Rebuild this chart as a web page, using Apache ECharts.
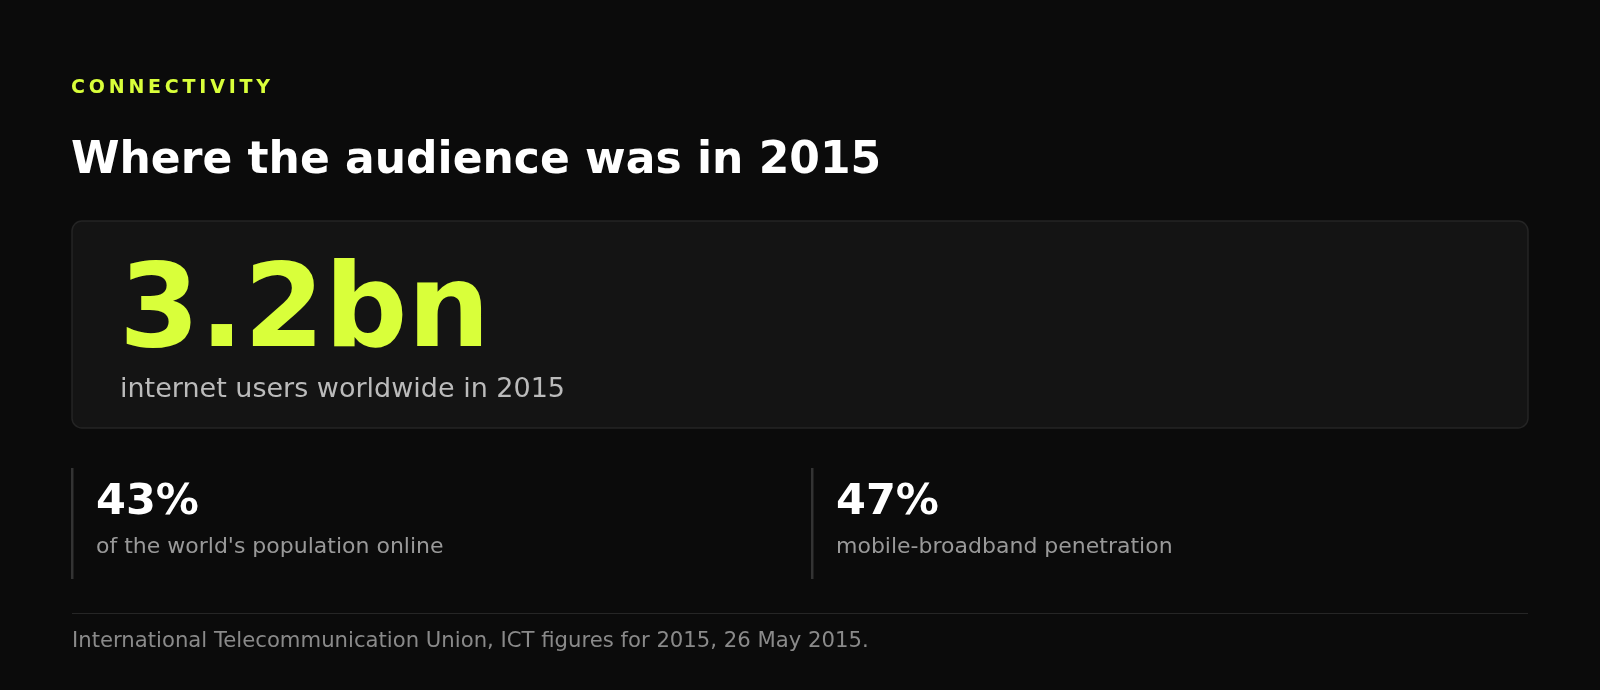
<!DOCTYPE html>
<html><head><meta charset="utf-8">
<script src="https://cdn.jsdelivr.net/npm/echarts@6/dist/echarts.min.js"></script>
<style>html,body{margin:0;padding:0;background:#0b0b0b}#c{width:1600px;height:690px}</style>
</head><body><div id="c"></div>
<script>
const kicker = "CONNECTIVITY";
const title = "Where the audience was in 2015";
const heroValue = "3.2bn";
const heroLabel = "internet users worldwide in 2015";
const statValues = ["43%", "47%"];
const statLabels = ["of the world's population online", "mobile-broadband penetration"];
const source = "International Telecommunication Union, ICT figures for 2015, 26 May 2015.";

const F = "DejaVu Sans";
const chart = echarts.init(document.getElementById('c'), null, {renderer: 'canvas'});
const g = [];
g.push({type:'text', left:71, top:79, style:{text:kicker.split('').join('\u2009'), fill:'#d9ff3a', font:`bold 19px "${F}"`}});
g.push({type:'text', left:71, top:140, style:{text:title, fill:'#ffffff', font:`bold 44px "${F}"`}});
g.push({type:'rect', shape:{x:72, y:221, width:1456, height:207, r:10}, style:{fill:'#141414', stroke:'#242424', lineWidth:1.5}});
g.push({type:'text', left:119, top:258, style:{text:heroValue, fill:'#d9ff3a', font:`bold 116px "${F}"`}});
g.push({type:'text', left:120, top:376, style:{text:heroLabel, fill:'#bbbbbb', font:`27px "${F}"`}});
const xs = [71, 811];
statValues.forEach((v,i)=>{
  const x = xs[i];
  g.push({type:'rect', shape:{x:x, y:468, width:2.5, height:111}, style:{fill:'#333333'}});
  g.push({type:'text', left:x+25, top:481, style:{text:v, fill:'#ffffff', font:`bold 43px "${F}"`}});
  g.push({type:'text', left:x+25, top:536, style:{text:statLabels[i], fill:'#999999', font:`22px "${F}"`}});
});
g.push({type:'rect', shape:{x:72, y:613, width:1456, height:1}, style:{fill:'#262626'}});
g.push({type:'text', left:72, top:631, style:{text:source, fill:'#8a8a8a', font:`21.2px "${F}"`}});
chart.setOption({backgroundColor:'#0b0b0b', graphic:{elements:g}});
</script></body></html>
